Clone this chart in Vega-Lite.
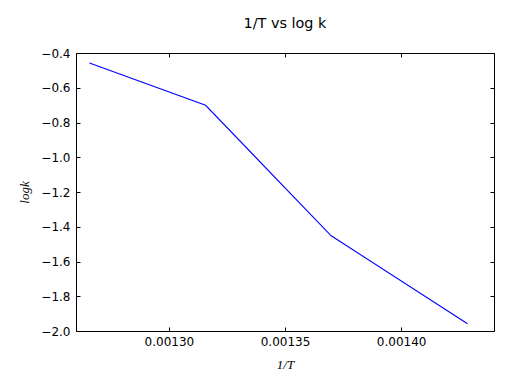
{
  "$schema": "https://vega.github.io/schema/vega-lite/v6.json",
  "width": 418,
  "height": 278,
  "autosize": {"type": "none"},
  "padding": {"left": 76, "top": 53, "right": 35, "bottom": 54},
  "background": "white",
  "title": {"text": "1/T vs log k", "font": "DejaVu Sans", "fontSize": 14.4, "fontWeight": "normal", "color": "black", "offset": 16, "anchor": "middle"},
  "config": {
    "view": {"stroke": "black", "strokeWidth": 1},
    "axis": {"grid": false, "domain": false, "tickColor": "black", "tickSize": -4, "tickWidth": 1,
      "labelFont": "DejaVu Sans", "labelFontSize": 12, "labelColor": "black",
      "titleFont": "Liberation Serif", "titleFontStyle": "italic", "titleFontWeight": "normal", "titleFontSize": 13, "titleColor": "black"}
  },
  "data": {"values": [
    {"invT": 0.0012658, "logk": -0.458},
    {"invT": 0.0013158, "logk": -0.701},
    {"invT": 0.0013699, "logk": -1.452},
    {"invT": 0.0014286, "logk": -1.958}
  ]},
  "resolve": {"axis": {"x": "independent", "y": "independent"}},
  "layer": [
    {
      "mark": {"type": "line", "color": "#0000ff", "strokeWidth": 1.1},
      "encoding": {
        "x": {"field": "invT", "type": "quantitative", "scale": {"domain": [0.00126, 0.00144], "nice": false, "zero": false},
          "axis": {"title": "1/T", "values": [0.0013, 0.00135, 0.0014], "format": ".5f", "labelPadding": 9, "titlePadding": 11}},
        "y": {"field": "logk", "type": "quantitative", "scale": {"domain": [-2.0, -0.4], "nice": false, "zero": false},
          "axis": {"title": "logk", "values": [-2.0, -1.8, -1.6, -1.4, -1.2, -1.0, -0.8, -0.6, -0.4], "format": ".1f", "labelPadding": 10, "titlePadding": 9}}
      }
    },
    {
      "mark": {"type": "line", "opacity": 0},
      "encoding": {
        "x": {"field": "invT", "type": "quantitative", "axis": {"orient": "top", "title": null, "labels": false, "values": [0.0013, 0.00135, 0.0014]}},
        "y": {"field": "logk", "type": "quantitative", "axis": {"orient": "right", "title": null, "labels": false, "values": [-2.0, -1.8, -1.6, -1.4, -1.2, -1.0, -0.8, -0.6, -0.4]}}
      }
    }
  ]
}
